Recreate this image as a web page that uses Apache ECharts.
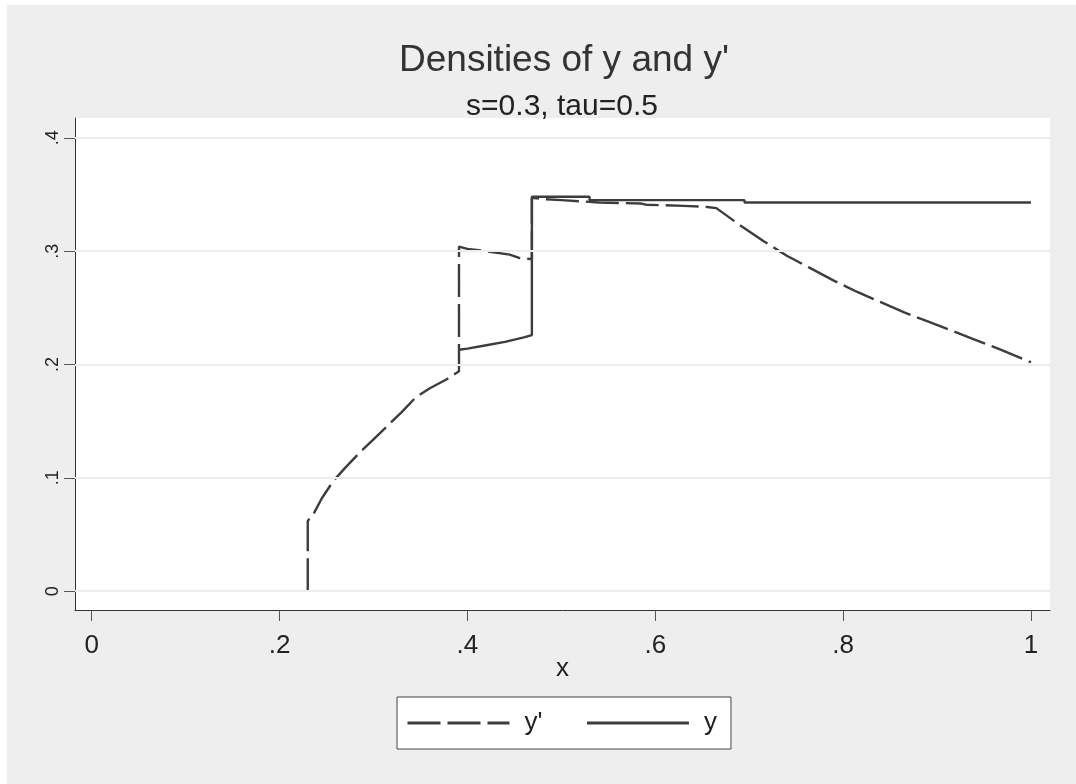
<!DOCTYPE html>
<html>
<head>
<meta charset="utf-8">
<script src="https://cdn.jsdelivr.net/npm/echarts@6/dist/echarts.min.js"></script>
<style>
  body { margin: 0; background: #ffffff; }
  #chart { position: absolute; left: 7px; top: 5px; width: 1069px; height: 779px; background: #eeeeee; }
</style>
</head>
<body>
<div id="chart"></div>
<script>
// densities
const yPrimeX = [0.23, 0.23, 0.236, 0.245, 0.257, 0.27, 0.285, 0.3, 0.315, 0.33, 0.345, 0.36, 0.378, 0.391,
  0.391, 0.4, 0.42, 0.445, 0.455, 0.4686, 0.4686, 0.48, 0.5, 0.52, 0.54, 0.585, 0.59, 0.63, 0.655, 0.665,
  0.69, 0.715, 0.74, 0.765, 0.79, 0.815, 0.84, 0.865, 0.89, 0.915, 0.94, 0.965, 1.0];
const yPrimeVal = [0, 0.062, 0.068, 0.082, 0.097, 0.109, 0.122, 0.134, 0.146, 0.158, 0.171, 0.179, 0.187, 0.194,
  0.304, 0.302, 0.3, 0.297, 0.294, 0.293, 0.347, 0.346, 0.345, 0.344, 0.343, 0.342, 0.341, 0.34, 0.339, 0.338,
  0.323, 0.309, 0.296, 0.285, 0.274, 0.264, 0.255, 0.246, 0.238, 0.23, 0.222, 0.214, 0.202];
const yX = [0.391, 0.4, 0.42, 0.44, 0.46, 0.4686, 0.4686, 0.53, 0.53, 0.695, 0.695, 1.0];
const yVal = [0.213, 0.214, 0.217, 0.22, 0.224, 0.226, 0.348, 0.348, 0.345, 0.345, 0.343, 0.343];

const xTicks = [0, 0.2, 0.4, 0.6, 0.8, 1];
const yTicks = [0, 0.1, 0.2, 0.3, 0.4];

const fmt = v => (v === 0 ? "0" : String(v).replace(/^0\./, "."));
const zip = (xs, vs) => xs.map((x, i) => [x, vs[i]]);

const font = "Liberation Sans, Arial, sans-serif";
const lineColor = "#3d3d3d";

const myChart = echarts.init(document.getElementById("chart"));
const option = {
  animation: false,
  title: [
    {
      text: "Densities of y and y'",
      left: 552,
      top: 32,
      textAlign: "center",
      textStyle: { fontFamily: font, fontSize: 37, fontWeight: "normal", color: "#333" },
    },
    {
      text: "s=0.3, tau=0.5",
      left: 550,
      top: 82,
      textAlign: "center",
      textStyle: { fontFamily: font, fontSize: 30, fontWeight: "normal", color: "#222" },
    },
  ],
  legend: {
    data: ["y'", "y"],
    left: 390,
    top: 692,
    orient: "horizontal",
    itemWidth: 102,
    itemHeight: 26,
    itemGap: 43,
    padding: [13, 14, 13, 9],
    borderColor: "#444",
    borderWidth: 1,
    backgroundColor: "#fff",
    itemStyle: { opacity: 0 },
    lineStyle: { width: 3 },
    textStyle: { fontFamily: font, fontSize: 26, color: "#222", padding: [0, 0, 0, 10] },
  },
  grid: {
    left: 68,
    top: 113,
    right: 26,
    bottom: 174,
    show: true,
    backgroundColor: "#fff",
    borderWidth: 0,
  },
  xAxis: {
    type: "value",
    min: -0.0178,
    max: 1.0202,
    name: "x",
    nameLocation: "middle",
    nameGap: 46,
    nameMoveOverlap: false,
    nameTextStyle: { fontFamily: font, fontSize: 26, color: "#222" },
    axisLine: { onZero: false, lineStyle: { color: "#333", width: 1 } },
    axisTick: { customValues: xTicks, length: 11, lineStyle: { color: "#555" } },
    axisLabel: { customValues: xTicks, formatter: fmt, fontFamily: font, fontSize: 26, color: "#222", margin: 23 },
    splitLine: { show: false },
  },
  yAxis: {
    type: "value",
    min: -0.0166,
    max: 0.4175,
    axisLine: { show: true, onZero: false, lineStyle: { color: "#333", width: 1 } },
    axisTick: { show: true, customValues: yTicks, length: 11, lineStyle: { color: "#555" } },
    axisLabel: { customValues: yTicks, formatter: fmt, rotate: 90, fontFamily: font, fontSize: 18, color: "#222", margin: 13 },
    splitLine: { show: false },
  },
  series: [
    {
      name: "grid",
      type: "line",
      data: [],
      z: 1,
      markLine: {
        silent: true,
        symbol: ["none", "none"],
        label: { show: false },
        lineStyle: { color: "#ededed", width: 2, type: "solid" },
        data: yTicks.map(v => ({ yAxis: v })),
      },
    },
    {
      name: "y'",
      type: "line",
      data: zip(yPrimeX, yPrimeVal),
      symbol: "none",
      z: 3,
      lineStyle: { color: lineColor, width: 2.4, type: [33, 7] },
      itemStyle: { color: lineColor },
    },
    {
      name: "y",
      type: "line",
      data: zip(yX, yVal),
      symbol: "none",
      z: 3,
      lineStyle: { color: lineColor, width: 2.4 },
      itemStyle: { color: lineColor },
    },
  ],
};
myChart.setOption(option);
</script>
</body>
</html>
